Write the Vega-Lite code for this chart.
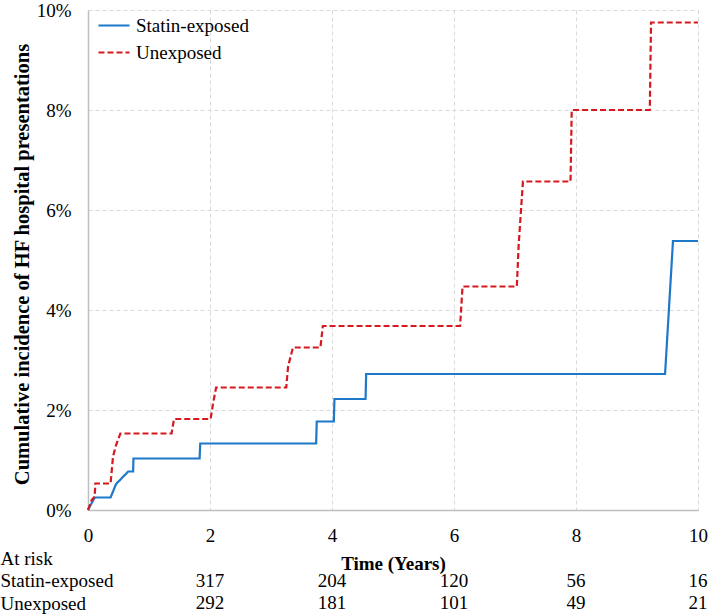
{
  "$schema": "https://vega.github.io/schema/vega-lite/v6.json",
  "width": 610,
  "height": 500,
  "autosize": {"type": "none"},
  "padding": {"left": 88, "top": 10, "right": 11, "bottom": 105},
  "background": "white",
  "config": {
    "font": "Liberation Serif",
    "view": {"stroke": null},
    "axis": {
      "labelFont": "Liberation Serif",
      "titleFont": "Liberation Serif",
      "labelColor": "#000000",
      "titleColor": "#000000",
      "labelFontSize": 19,
      "titleFontSize": 19,
      "titleFontWeight": "bold",
      "ticks": false,
      "domainColor": "#bfbfbf",
      "domainWidth": 1.5,
      "gridColor": "#d9d9d9",
      "gridDash": [4, 3],
      "gridWidth": 1
    },
    "legend": {"labelFont": "Liberation Serif"}
  },
  "layer": [
    {
      "layer": [
        {
          "data": {
            "values": [
              {"group": "Statin-exposed", "i": 0, "t": 0, "inc": 0},
              {"group": "Statin-exposed", "i": 1, "t": 0.11, "inc": 0.25},
              {"group": "Statin-exposed", "i": 2, "t": 0.37, "inc": 0.25},
              {"group": "Statin-exposed", "i": 3, "t": 0.46, "inc": 0.52},
              {"group": "Statin-exposed", "i": 4, "t": 0.66, "inc": 0.77},
              {"group": "Statin-exposed", "i": 5, "t": 0.74, "inc": 0.77},
              {"group": "Statin-exposed", "i": 6, "t": 0.745, "inc": 1.03},
              {"group": "Statin-exposed", "i": 7, "t": 1.83, "inc": 1.03},
              {"group": "Statin-exposed", "i": 8, "t": 1.84, "inc": 1.33},
              {"group": "Statin-exposed", "i": 9, "t": 3.74, "inc": 1.33},
              {"group": "Statin-exposed", "i": 10, "t": 3.75, "inc": 1.77},
              {"group": "Statin-exposed", "i": 11, "t": 4.03, "inc": 1.77},
              {"group": "Statin-exposed", "i": 12, "t": 4.04, "inc": 2.22},
              {"group": "Statin-exposed", "i": 13, "t": 4.55, "inc": 2.22},
              {"group": "Statin-exposed", "i": 14, "t": 4.56, "inc": 2.72},
              {"group": "Statin-exposed", "i": 15, "t": 9.46, "inc": 2.72},
              {"group": "Statin-exposed", "i": 16, "t": 9.59, "inc": 5.38},
              {"group": "Statin-exposed", "i": 17, "t": 10, "inc": 5.38},
              {"group": "Unexposed", "i": 0, "t": 0, "inc": 0},
              {"group": "Unexposed", "i": 1, "t": 0.06, "inc": 0.2},
              {"group": "Unexposed", "i": 2, "t": 0.11, "inc": 0.27},
              {"group": "Unexposed", "i": 3, "t": 0.12, "inc": 0.53},
              {"group": "Unexposed", "i": 4, "t": 0.37, "inc": 0.53},
              {"group": "Unexposed", "i": 5, "t": 0.41, "inc": 1.07},
              {"group": "Unexposed", "i": 6, "t": 0.46, "inc": 1.3},
              {"group": "Unexposed", "i": 7, "t": 0.53, "inc": 1.53},
              {"group": "Unexposed", "i": 8, "t": 1.37, "inc": 1.53},
              {"group": "Unexposed", "i": 9, "t": 1.41, "inc": 1.82},
              {"group": "Unexposed", "i": 10, "t": 2.01, "inc": 1.82},
              {"group": "Unexposed", "i": 11, "t": 2.05, "inc": 2.13},
              {"group": "Unexposed", "i": 12, "t": 2.1, "inc": 2.45},
              {"group": "Unexposed", "i": 13, "t": 3.25, "inc": 2.45},
              {"group": "Unexposed", "i": 14, "t": 3.28, "inc": 2.87},
              {"group": "Unexposed", "i": 15, "t": 3.36, "inc": 3.25},
              {"group": "Unexposed", "i": 16, "t": 3.81, "inc": 3.25},
              {"group": "Unexposed", "i": 17, "t": 3.85, "inc": 3.68},
              {"group": "Unexposed", "i": 18, "t": 6.1, "inc": 3.68},
              {"group": "Unexposed", "i": 19, "t": 6.14, "inc": 4.47},
              {"group": "Unexposed", "i": 20, "t": 7.03, "inc": 4.47},
              {"group": "Unexposed", "i": 21, "t": 7.06, "inc": 5.3},
              {"group": "Unexposed", "i": 22, "t": 7.13, "inc": 6.57},
              {"group": "Unexposed", "i": 23, "t": 7.91, "inc": 6.57},
              {"group": "Unexposed", "i": 24, "t": 7.93, "inc": 8.0},
              {"group": "Unexposed", "i": 25, "t": 9.21, "inc": 8.0},
              {"group": "Unexposed", "i": 26, "t": 9.23, "inc": 9.75},
              {"group": "Unexposed", "i": 27, "t": 10, "inc": 9.75}
            ]
          },
          "mark": {"type": "line", "strokeWidth": 2.2},
          "encoding": {
            "x": {
              "field": "t",
              "type": "quantitative",
              "scale": {"domain": [0, 10], "nice": false, "zero": false},
              "axis": {
                "values": [0, 2, 4, 6, 8, 10],
                "format": "d",
                "grid": true,
                "labelFlush": false,
                "labelPadding": 16,
                "title": "Time (Years)",
                "titleX": 305,
                "titleY": 53,
                "titleBaseline": "middle",
                "titleAlign": "center"
              }
            },
            "y": {
              "field": "inc",
              "type": "quantitative",
              "scale": {"domain": [0, 10], "nice": false},
              "axis": {
                "values": [0, 2, 4, 6, 8, 10],
                "grid": true,
                "labelExpr": "datum.value + '%'",
                "labelPadding": 17,
                "title": "Cumulative incidence of HF hospital presentations",
                "titleFontSize": 20.5,
                "titleAngle": -90,
                "titleX": -60,
                "titleY": 254,
                "titleBaseline": "alphabetic",
                "titleAlign": "center"
              }
            },
            "color": {
              "field": "group",
              "type": "nominal",
              "scale": {"domain": ["Statin-exposed", "Unexposed"], "range": ["#1e78c8", "#d6181f"]},
              "legend": {
                "orient": "none",
                "legendX": 9,
                "legendY": -1.5,
                "title": null,
                "padding": 0,
                "symbolType": "stroke",
                "symbolSize": 961,
                "symbolStrokeWidth": 2.2,
                "labelFontSize": 19,
                "labelColor": "#000000",
                "labelOffset": 5,
                "rowPadding": -3
              }
            },
            "strokeDash": {
              "field": "group",
              "type": "nominal",
              "scale": {"domain": ["Statin-exposed", "Unexposed"], "range": [[1, 0], [6, 3]]},
              "legend": {
                "orient": "none",
                "legendX": 9,
                "legendY": -1.5,
                "title": null,
                "padding": 0,
                "symbolType": "stroke",
                "symbolSize": 961,
                "symbolStrokeWidth": 2.2,
                "labelFontSize": 19,
                "labelColor": "#000000",
                "labelOffset": 5,
                "rowPadding": -3
              }
            },
            "order": {"field": "i", "type": "quantitative"}
          }
        },
        {
          "mark": {"type": "text", "align": "right", "baseline": "middle", "fontSize": 19, "color": "#000000"},
          "encoding": {
            "x": {"datum": 9.13, "type": "quantitative"},
            "y": {"datum": 9.66, "type": "quantitative"},
            "text": {"value": "p= 0.09"}
          }
        }
      ]
    },
    {
      "data": {
        "values": [
          {"row": "Statin-exposed", "t": 2, "n": 317},
          {"row": "Statin-exposed", "t": 4, "n": 204},
          {"row": "Statin-exposed", "t": 6, "n": 120},
          {"row": "Statin-exposed", "t": 8, "n": 56},
          {"row": "Statin-exposed", "t": 10, "n": 16},
          {"row": "Unexposed", "t": 2, "n": 292},
          {"row": "Unexposed", "t": 4, "n": 181},
          {"row": "Unexposed", "t": 6, "n": 101},
          {"row": "Unexposed", "t": 8, "n": 49},
          {"row": "Unexposed", "t": 10, "n": 21}
        ]
      },
      "mark": {"type": "text", "align": "center", "baseline": "middle", "fontSize": 19, "color": "#000000"},
      "encoding": {
        "x": {"field": "t", "type": "quantitative"},
        "y": {
          "field": "row",
          "type": "ordinal",
          "scale": {"type": "point", "domain": ["At risk", "Statin-exposed", "Unexposed"], "range": [548, 593], "padding": 0},
          "axis": {
            "orient": "left",
            "title": null,
            "domain": false,
            "ticks": false,
            "grid": false,
            "labelAlign": "left",
            "labelBaseline": "middle",
            "labelPadding": 88,
            "labelFontSize": 19
          }
        },
        "text": {"field": "n", "type": "quantitative"}
      }
    }
  ],
  "resolve": {"scale": {"y": "independent"}}
}
